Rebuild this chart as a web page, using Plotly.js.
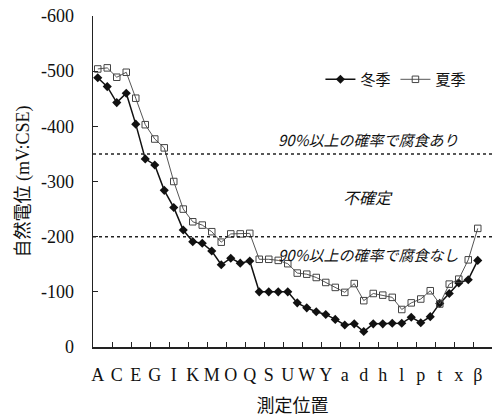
<!DOCTYPE html>
<html>
<head>
<meta charset="utf-8">
<script src="https://cdn.plot.ly/plotly-3.0.1.min.js"></script>
<style>html,body{margin:0;padding:0;background:#fff;}#chart{width:493px;height:420px;}</style>
</head>
<body>
<div id="chart"></div>
<script>
// measurement positions (index 0..40), 41 points
var positions = [0,1,2,3,4,5,6,7,8,9,10,11,12,13,14,15,16,17,18,19,20,21,22,23,24,25,26,27,28,29,30,31,32,33,34,35,36,37,38,39,40];
// 冬季 (winter) natural potential, mV:CSE
var winter = [-488,-472,-443,-460,-404,-341,-330,-284,-253,-212,-191,-188,-174,-149,-161,-152,-156,-100,-100,-100,-100,-80,-71,-64,-59,-50,-40,-42,-28,-42,-42,-43,-43,-54,-44,-55,-79,-97,-116,-122,-157];
// 夏季 (summer)
var summer = [-504,-506,-489,-498,-451,-403,-377,-361,-300,-250,-227,-221,-209,-190,-205,-205,-206,-159,-159,-157,-151,-134,-132,-126,-117,-108,-99,-115,-84,-97,-94,-90,-68,-80,-87,-102,-78,-114,-123,-158,-215];
// x tick labels (every second measurement position)
var xLabelVals = [0,2,4,6,8,10,12,14,16,18,20,22,24,26,28,30,32,34,36,38,40];
var xLabels = ['A','C','E','G','I','K','M','O','Q','S','U','W','Y','a','d','h','l','p','t','x','β'];
// x tick marks (between categories, every 2)
var xTickMarks = [1.5,3.5,5.5,7.5,9.5,11.5,13.5,15.5,17.5,19.5,21.5,23.5,25.5,27.5,29.5,31.5,33.5,35.5,37.5,39.5];
// y ticks
var yTickVals = [0,-100,-200,-300,-400,-500,-600];
var yTickText = ['0','-100','-200','-300','-400','-500','-600'];
// threshold lines
var thresholds = [-350, -200];

var FONT = 'Liberation Serif, "Noto Sans CJK JP", serif';
var CJK = '"Noto Sans CJK JP", sans-serif';

var traces = [
  {x: positions, y: winter, name: '冬季', type: 'scatter', mode: 'lines+markers',
   line: {color: '#111', width: 1.5},
   marker: {symbol: 'diamond', size: 7, color: '#111'}},
  {x: positions, y: summer, name: '夏季', type: 'scatter', mode: 'lines+markers',
   line: {color: '#555', width: 1},
   marker: {symbol: 'square-open', size: 6.5, color: '#444', line: {width: 1}}}
];

var shapes = thresholds.map(function(v){
  return {type: 'line', xref: 'paper', x0: 0, x1: 1, yref: 'y', y0: v, y1: v,
          line: {color: '#222', width: 1.5, dash: 'dot'}};
});

var layout = {
  width: 493, height: 420,
  margin: {l: 93, r: 1, t: 16, b: 73},
  paper_bgcolor: '#fff', plot_bgcolor: '#fff',
  font: {family: FONT, color: '#111', size: 18},
  showlegend: true,
  legend: {orientation: 'h', x: 0.57, y: 0.808, xanchor: 'left', yanchor: 'middle',
           font: {family: CJK, size: 15, color: '#111'}, bgcolor: 'rgba(0,0,0,0)'},
  xaxis: {range: [-0.5, 41.5], showgrid: false, zeroline: false,
          showline: true, linecolor: '#222', linewidth: 1.5,
          ticks: '', tickvals: xLabelVals, ticktext: xLabels,
          tickfont: {family: FONT, size: 18}, ticklabelstandoff: 11,
          minor: {tickvals: xTickMarks, ticks: 'inside', ticklen: 5, tickcolor: '#222', tickwidth: 1, showgrid: false},
          title: {text: '測定位置', font: {family: CJK, size: 18}}},
  yaxis: {range: [0, -600], showgrid: false, zeroline: false,
          showline: true, linecolor: '#222', linewidth: 1.5,
          ticks: 'inside', ticklen: 5, tickcolor: '#222',
          tickvals: yTickVals, ticktext: yTickText, ticklabelstandoff: 14,
          tickfont: {family: FONT, size: 18},
          title: {text: '自然電位 (mV:CSE)', font: {family: FONT, size: 18}, standoff: 6}},
  shapes: shapes,
  annotations: [
    {xref: 'paper', yref: 'y', x: 0.69, xanchor: 'center', y: -376, text: '<i>90%以上の確率で腐食あり</i>',
     showarrow: false, font: {family: CJK, size: 15}},
    {xref: 'paper', yref: 'y', x: 0.69, xanchor: 'center', y: -272, text: '<i>不確定</i>',
     showarrow: false, font: {family: CJK, size: 16}},
    {xref: 'paper', yref: 'y', x: 0.69, xanchor: 'center', y: -167, text: '<i>90%以上の確率で腐食なし</i>',
     showarrow: false, font: {family: CJK, size: 15}}
  ]
};

function slant(gd){
  // CJK fonts have no italic face: give the tilted annotation texts a synthetic slant
  var texts = gd.querySelectorAll('g.annotation text');
  for (var i = 0; i < texts.length; i++) {
    var tspans = texts[i].querySelectorAll('tspan');
    for (var j = 0; j < tspans.length; j++) {
      tspans[j].style.fontStyle = 'oblique 14deg';
      tspans[j].style.fontSynthesis = 'style';
    }
    texts[i].style.fontStyle = 'oblique 14deg';
    texts[i].style.fontSynthesis = 'style';
  }
}

var gdiv = document.getElementById('chart');
Plotly.newPlot(gdiv, traces, layout, {displayModeBar: false, staticPlot: true}).then(slant);
slant(gdiv);
</script>
</body>
</html>
